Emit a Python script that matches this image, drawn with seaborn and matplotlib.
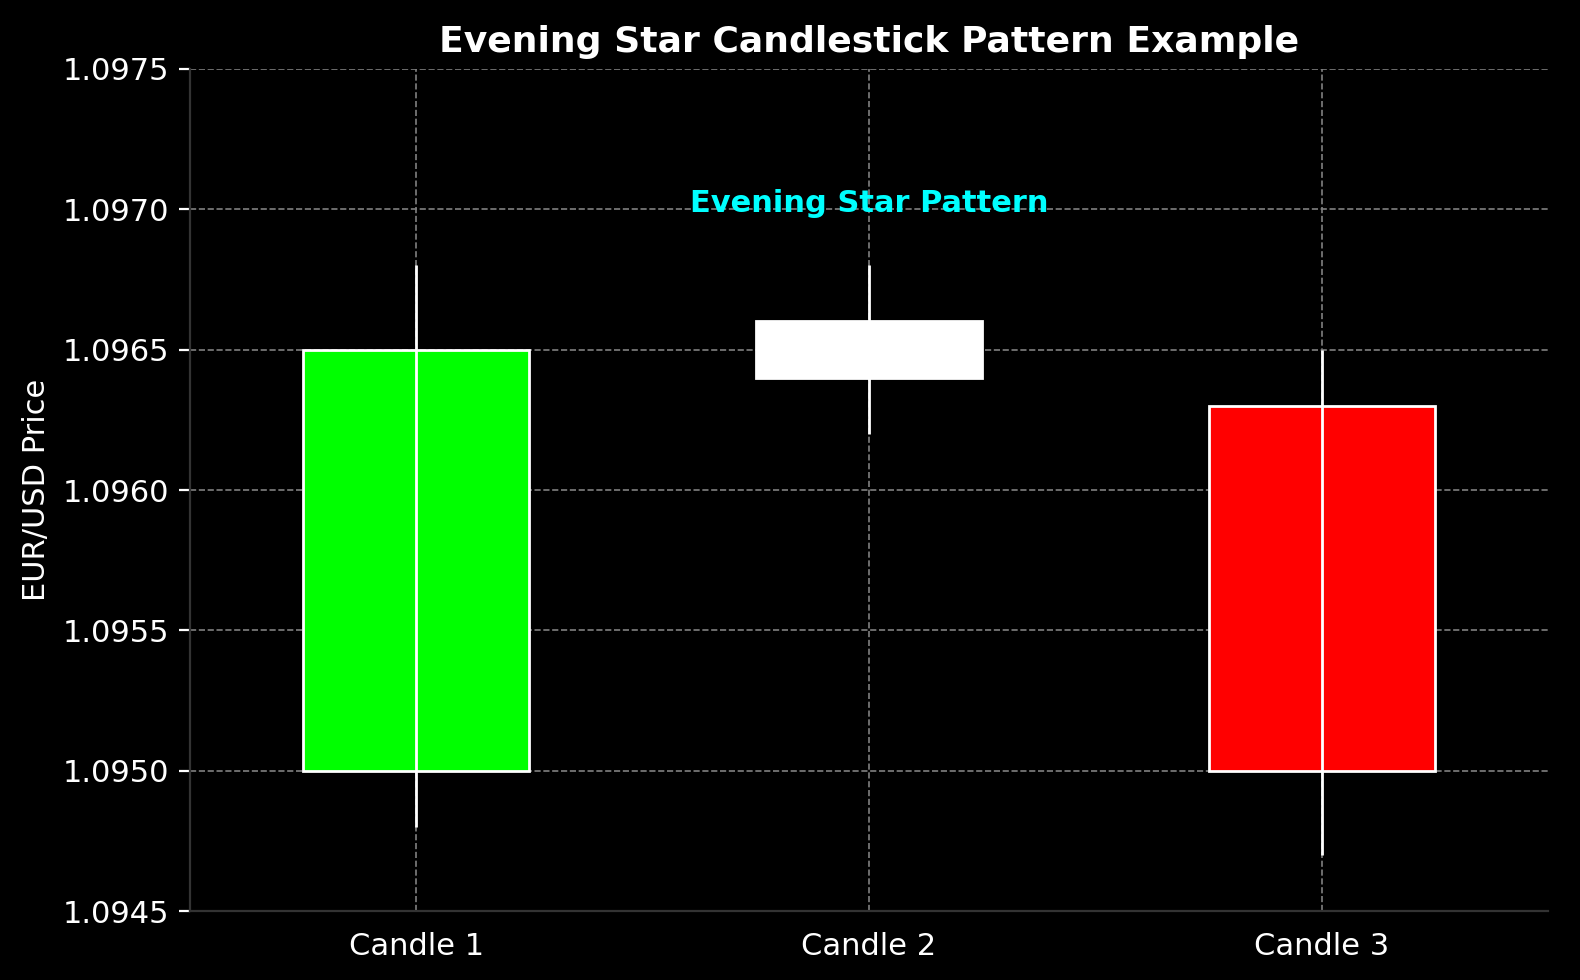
import numpy as np
import pandas as pd
import seaborn as sns
from matplotlib import pyplot as plt

candles = ['Candle 1', 'Candle 2', 'Candle 3']
opens = [1.0950, 1.0964, 1.0963]
closes = [1.0965, 1.0966, 1.0950]
highs = [1.0968, 1.0968, 1.0965]
lows = [1.0948, 1.0962, 1.0947]
colors = ['#00ff00', '#ffffff', '#ff0000']

sns.set_style("dark", {'axes.facecolor': 'black', 'figure.facecolor': 'black'})
plt.rcParams['font.family'] = ['DejaVu Sans']

fig, ax = plt.subplots(figsize=(7.9, 4.9), dpi=200)
fig.patch.set_facecolor('black')
ax.set_facecolor('black')

df = pd.DataFrame({'Candle': candles, 'Open': opens, 'Close': closes,
                   'High': highs, 'Low': lows})
x = np.arange(len(df))
bottoms = np.minimum(df['Open'], df['Close'])
heights = np.abs(df['Close'] - df['Open'])

ax.grid(True, color='gray', linestyle='--', linewidth=0.6, zorder=0)
ax.bar(x, heights, bottom=bottoms, width=0.5, color=colors,
       edgecolor='white', linewidth=1, zorder=2)
ax.vlines(x, df['Low'], df['High'], color='white', linewidth=1, zorder=3)

ax.text(1, 1.09702, 'Evening Star Pattern', color='cyan', fontsize=11,
        fontweight='bold', ha='center', va='center')

ax.set_xlim(-0.5, 2.5)
ax.set_ylim(1.0945, 1.0975)
ax.set_yticks(np.arange(1.0945, 1.09751, 0.0005))
ax.yaxis.set_major_formatter(plt.FuncFormatter(lambda v, p: f'{v:.4f}'))
ax.set_xticks(x)
ax.set_xticklabels(candles)
ax.tick_params(colors='white', labelsize=11, left=True, bottom=False, length=4)
ax.set_ylabel('EUR/USD Price', color='white', fontsize=11)
ax.set_title('Evening Star Candlestick Pattern Example', color='white',
             fontsize=13, fontweight='bold')
for s in ['top', 'right']:
    ax.spines[s].set_visible(False)
for s in ['left', 'bottom']:
    ax.spines[s].set_color('#333333')

plt.subplots_adjust(left=0.12, right=0.98, top=0.93, bottom=0.07)
plt.savefig('out.png', dpi=200, facecolor='black')
